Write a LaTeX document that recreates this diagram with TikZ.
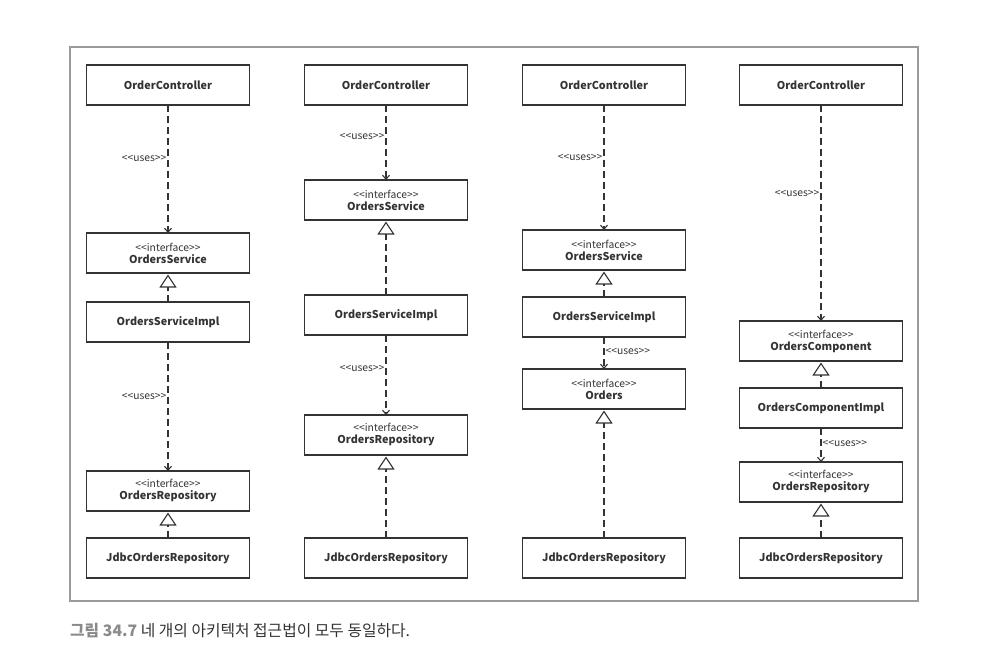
\documentclass[tikz,border=0pt]{standalone}
\usepackage{fontspec}
\setmainfont{Noto Sans CJK KR}[Ligatures=TeXOff]
\usetikzlibrary{arrows.meta,positioning}

\definecolor{ink}{HTML}{333333}
\definecolor{framegray}{HTML}{9A9A9A}
\definecolor{capgray}{HTML}{8A8A8A}
\newcommand{\ifacebox}[1]{{\fontsize{10.3}{12}\selectfont\mdseries <<interface>>}\\#1}

\begin{document}
\begin{tikzpicture}[x=1pt, y=-1pt,
  cls/.style={draw=ink, line width=1.4pt, minimum width=163pt, minimum height=40pt,
    inner sep=2pt, outer sep=0pt, align=center, text=ink,
    font=\fontsize{10.8}{12}\selectfont\bfseries},
  uses/.style={draw=ink, line width=1.2pt, dash pattern=on 7pt off 4pt,
    -{Straight Barb[length=4pt, width=7pt, line width=1.1pt]}},
  impl/.style={draw=ink, line width=1.2pt, dash pattern=on 7pt off 4pt, shorten >=1.5pt,
    -{Triangle[open, length=13pt, width=17pt, fill=white, line width=1.1pt]}},
  lbl/.style={font=\fontsize{10.3}{12}\selectfont, text=ink, inner sep=1pt}
]
\useasboundingbox (0,0) rectangle (994,664);
\draw[framegray, line width=1.3pt] (70,47) rectangle (918,601);

% column 1
\node[cls] (ctrlA) at (168,85) {OrderController};
\node[cls, below=128pt of ctrlA] (svcA) {\ifacebox{OrdersService}};
\node[cls, below=29pt of svcA] (implA) {OrdersServiceImpl};
\node[cls, below=129pt of implA] (repoA) {\ifacebox{OrdersRepository}};
\node[cls, below=27pt of repoA] (jdbcA) {JdbcOrdersRepository};
\draw[uses] (ctrlA) -- node[lbl, pos=0.42, left] {<<uses>>} (svcA);
\draw[impl] (implA) -- (svcA);
\draw[uses] (implA) -- node[lbl, pos=0.42, left] {<<uses>>} (repoA);
\draw[impl] (jdbcA) -- (repoA);

% column 2
\node[cls] (ctrlB) at (386,85) {OrderController};
\node[cls, below=75pt of ctrlB] (svcB) {\ifacebox{OrdersService}};
\node[cls, below=75pt of svcB] (implB) {OrdersServiceImpl};
\node[cls, below=80pt of implB] (repoB) {\ifacebox{OrdersRepository}};
\node[cls, below=83pt of repoB] (jdbcB) {JdbcOrdersRepository};
\draw[uses] (ctrlB) -- node[lbl, pos=0.42, left] {<<uses>>} (svcB);
\draw[impl] (implB) -- (svcB);
\draw[uses] (implB) -- node[lbl, pos=0.42, left] {<<uses>>} (repoB);
\draw[impl] (jdbcB) -- (repoB);

% column 3
\node[cls] (ctrlC) at (604,85) {OrderController};
\node[cls, below=125pt of ctrlC] (svcC) {\ifacebox{OrdersService}};
\node[cls, below=27pt of svcC] (implC) {OrdersServiceImpl};
\node[cls, below=32pt of implC] (ordC) {\ifacebox{Orders}};
\node[cls, below=129pt of ordC] (jdbcC) {JdbcOrdersRepository};
\draw[uses] (ctrlC) -- node[lbl, pos=0.42, left] {<<uses>>} (svcC);
\draw[impl] (implC) -- (svcC);
\draw[uses] (implC) -- node[lbl, pos=0.44, right] {<<uses>>} (ordC);
\draw[impl] (jdbcC) -- (ordC);

% column 4
\node[cls] (ctrlD) at (821,85) {OrderController};
\node[cls, below=216pt of ctrlD] (compD) {\ifacebox{OrdersComponent}};
\node[cls, below=27pt of compD] (implD) {OrdersComponentImpl};
\node[cls, below=34pt of implD] (repoD) {\ifacebox{OrdersRepository}};
\node[cls, below=36pt of repoD] (jdbcD) {JdbcOrdersRepository};
\draw[uses] (ctrlD) -- node[lbl, pos=0.41, left] {<<uses>>} (compD);
\draw[impl] (implD) -- (compD);
\draw[uses] (implD) -- node[lbl, pos=0.47, right] {<<uses>>} (repoD);
\draw[impl] (jdbcD) -- (repoD);

% caption
\node[anchor=west, inner sep=0pt, text=ink, font=\fontsize{15.8}{18}\selectfont] (caption) at (70,631)
  {\textcolor{capgray}{\bfseries 그림 34.7} 네 개의 아키텍처 접근법이 모두 동일하다.};
\end{tikzpicture}
\end{document}
